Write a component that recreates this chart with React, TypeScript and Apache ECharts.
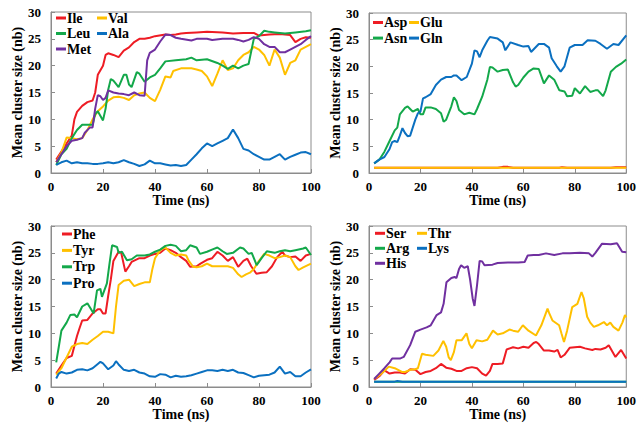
import React, { useEffect, useRef } from "react";
import * as echarts from "echarts";

type P = [number, number][];

// ---- Panel 1 ----
const ile: P = [[2,2.5],[4,4],[6,5.5],[8,7],[9,10],[10,11.4],[12,12.5],[14,13.2],[16,13.5],[17,15],[18,18.3],[20,20],[21,22],[22,22.3],[24,22],[26,21.6],[28,22.8],[30,23.4],[32,24.4],[34,25],[36,25],[38,25.2],[40,25.5],[44,25.8],[46,25.7],[48,25.8],[50,26],[52,26.1],[56,26.2],[60,26.3],[66,26.2],[70,26],[74,26.1],[78,26.1],[80,25.6],[84,25.8],[88,25.9],[92,25.7],[94,24.4],[96,25],[98,25.3],[100,25.2]];
const val: P = [[2,2],[4,3.8],[6,6.6],[8,6.5],[10,6.3],[12,6.5],[14,8],[16,10],[18,11.5],[20,12.4],[22,13.5],[24,14.1],[26,14.2],[28,14],[30,13.6],[32,14.5],[34,14.8],[36,15],[38,14],[40,13.4],[42,15.5],[44,18],[46,17.8],[47,19],[50,19.5],[54,19.5],[56,19.3],[58,19],[60,18],[62,16.2],[64,18.5],[66,21],[68,19.2],[70,19.5],[72,21],[74,22],[76,22.5],[78,23.5],[80,23],[82,22],[84,20],[86,23],[88,21.5],[90,18.3],[92,20.5],[94,21],[96,23],[98,23.5],[100,24]];
const leu: P = [[2,1.5],[4,3.5],[6,4.5],[8,6.5],[10,8],[12,9],[14,9],[16,9],[17,11],[18,11.5],[20,9.8],[21,12],[22,15.5],[23,17.5],[24,17.2],[26,16],[28,18.3],[29,18.3],[30,16.5],[31,16],[33,18.8],[34,18.5],[36,17],[38,17.8],[40,18.3],[42,19.5],[44,20.8],[48,21],[52,21.2],[54,21.5],[56,21],[60,21.2],[64,20.5],[66,20],[68,19.4],[70,20],[72,19.5],[74,20],[76,20.3],[78,25],[80,25.5],[82,26.5],[84,26.3],[86,26.2],[90,26],[94,26.2],[98,26.4],[100,26.6]];
const ala: P = [[2,1.5],[4,2],[6,2.3],[8,1.8],[10,2],[12,1.8],[14,1.8],[16,1.7],[18,1.7],[20,1.8],[22,2],[24,1.8],[26,2],[28,2.4],[30,2],[32,1.7],[34,1.3],[36,1.6],[38,2.3],[40,1.8],[42,1.8],[44,1.6],[46,1.4],[48,1.5],[50,1.3],[52,1.5],[54,2.5],[56,3.5],[58,4.6],[60,5.5],[62,5],[64,5.5],[66,6],[68,6.5],[70,8.1],[72,6.5],[74,4.5],[76,4.2],[78,3.5],[80,3],[82,2.5],[84,2.5],[86,3],[88,3.5],[90,2.5],[92,3],[94,3.4],[96,3.8],[98,3.9],[100,3.5]];
const met: P = [[2,2],[4,3.5],[6,5],[8,6],[10,6.2],[12,6.5],[13,7.5],[15,8.5],[16,8.5],[17,12],[18,14.5],[19,14.3],[20,13.6],[21,14],[22,15.4],[24,15],[26,14.8],[28,14.7],[30,14.5],[32,15],[34,14.5],[36,14.4],[37,21],[38,22.4],[40,23],[42,24.5],[44,25.8],[46,25.7],[48,25.2],[50,25],[54,24.7],[56,25],[60,25],[62,24.8],[66,25],[70,25],[72,24.8],[74,24.5],[76,24.8],[78,25.3],[80,25],[82,24],[84,23.5],[86,23.5],[88,22.5],[90,22.5],[92,23],[94,23.5],[96,24],[98,24.8],[100,25.5]];

// ---- Panel 2 ----
const asp: P = [[2,1],[50,1],[52,1.15],[54,1.15],[56,1],[74,1],[75,1.1],[77,1],[94,1],[96,1.1],[100,1.1]];
const glu: P = [[2,1],[100,1]];
const asn: P = [[2,1.8],[4,2.5],[6,4],[8,6],[10,8],[11,8.5],[12,11],[14,12.2],[15,12.5],[16,12],[17,11.5],[19,12],[20,11],[21,11],[22,12.3],[24,12.3],[26,12],[28,11.2],[29,9.6],[30,10],[32,12.5],[33,14.2],[34,13.5],[35,11.8],[37,11],[39,11.3],[41,11],[42,12],[44,14.3],[46,17.5],[47,19.9],[48,19.8],[50,19],[52,19.3],[54,19.4],[56,17],[57,16.2],[58,16.5],[60,17.9],[62,19],[64,19.6],[66,19.5],[68,16.8],[70,18.3],[72,17.5],[74,15.5],[76,15.3],[77,14.4],[79,14.5],[80,15.9],[82,14.9],[84,16.3],[86,15.2],[88,15.5],[89,15.5],[91,14.4],[92,15.5],[94,19],[96,19.9],[98,20.5],[100,21.3]];
const gln: P = [[2,1.8],[4,2.5],[6,3],[8,4.5],[9,5.8],[10,6],[11,5.8],[12,7],[13,8.4],[14,7.5],[15,6.9],[16,7],[18,10],[19,11.2],[20,11.5],[21,14],[22,14.2],[24,14.8],[26,16.5],[28,17.5],[30,18],[32,18],[33,18.3],[34,18.3],[36,17.4],[38,18],[40,20.5],[41,23],[42,22.8],[43,21.7],[44,23],[46,24.8],[47,25.5],[50,25.2],[52,24.5],[53,23],[55,24.5],[58,24],[60,23.7],[62,23.8],[63,22.7],[66,24.2],[68,24.2],[70,23.5],[71,21.5],[73,20],[74.5,19],[76,20],[78,23.5],[80,24],[83,24],[85,24.9],[88,24.8],[90,24.2],[92.5,23.3],[95,24.2],[97,24],[100,25.8]];

// ---- Panel 3 ----
const phe: P = [[2,2.5],[4,4],[6,5.4],[8,5.8],[10,9.5],[11,11],[12,12.4],[14,12.5],[16,13.7],[18,14.5],[19,14.5],[20,13.7],[21,13.7],[22,17],[23,20],[24,23.5],[26,25.2],[27,25],[28.6,21.5],[30,22.5],[31,23.3],[34,24],[36,24],[38,24.5],[40,24.8],[42,25],[44,25.8],[46,25.5],[48,25],[50,24.2],[52,23.5],[53.5,22.4],[56,22.5],[57.5,23],[60,23.7],[62,24],[64,25.2],[66,24.5],[68,23.5],[70,24.2],[72,22.4],[74,23.5],[75.5,23.9],[77,22.5],[79,21.1],[81,21.3],[83,21.4],[85,22.5],[87,24.2],[89,25.2],[90,24.5],[92,24.2],[94,24.3],[96,23.5],[98,24.5],[100,24.8]];
const tyr: P = [[2,2.3],[4,3.5],[6,5.5],[8,7.5],[10,8],[12,8.2],[14,8],[16,8.8],[18,9.5],[20,10.3],[22,10.3],[24,10],[25,15],[26,19],[28,19.8],[30,20],[32,18.8],[34,19.2],[36,19.5],[38,19.5],[39,22],[40,24],[42,25.5],[44,26],[46,25],[48,24.5],[50,24.7],[52,24.5],[53,23.5],[54.7,22.4],[56,22.3],[58,22.5],[60,23],[62,22.5],[64,22.5],[68,22.5],[70,22.2],[72,21],[73.3,20.5],[75,21],[76.5,21.3],[78,22],[80,23.5],[82,24.8],[84,24.5],[86,24],[88,24.2],[90,24.5],[92,24.2],[94,22.5],[95.2,21.8],[97,22.3],[100,23]];
const trp: P = [[2,4.6],[3,7.5],[4,10.5],[6,12],[7.4,13.4],[9,13.5],[10,13],[12,15],[14,15.6],[16.4,13.7],[17.7,18],[19,18.3],[19.6,16.8],[21.5,19.3],[22.5,23],[23.5,26.4],[25.4,26.1],[26,25],[27.3,25.2],[29.2,23.6],[31,23.8],[33,24.5],[36,24.5],[38,24.7],[40,25.2],[42,25.6],[44,26.3],[46,26.5],[48,26.3],[50,25.3],[52,25.5],[53.5,26.4],[56,26],[57.3,24.8],[60,25.2],[62.4,25.7],[64,26],[66,25.3],[67.6,24.8],[70,25],[72.7,26],[74,25.8],[76,24.8],[77.2,25],[79.1,22.7],[81,24],[83,25.3],[86,25],[88,25.3],[90,25.5],[92,25.3],[94,25.5],[97,25.8],[98,26],[100,24.6]];
const pro: P = [[2,1.6],[3,2.5],[4,2.8],[6,2.5],[8,2.7],[10,3.2],[12,3.3],[14,3.1],[16,3.5],[18,4.3],[19,4.7],[20,4.4],[22,3.3],[24,4],[25,4.8],[26,4.2],[28,3.2],[30,3],[32,3.2],[34,2.7],[36,2.5],[38,2],[40,1.9],[42,2.4],[44,2.3],[46,1.8],[48,2.1],[50,1.9],[52,2],[54,2.2],[56,2.5],[58,2.8],[60,3.1],[62,3.1],[64,3],[66,3.2],[68,3],[70,3.2],[72,2.7],[74,2.6],[76,2.2],[78,1.8],[80,2.1],[82,2.2],[84,2.3],[86,2.7],[88,3.8],[90,2.5],[92,2.8],[94,2],[96,2],[98,2.7],[100,3.3]];

// ---- Panel 4 ----
const ser: P = [[2,1.3],[4,2],[6,3.1],[8,2.5],[10,2.7],[12,2.7],[14,2.5],[16,3.3],[18,3.2],[20,2.4],[22,2.8],[24,3],[26,3.5],[28,4.3],[30,3.6],[32,3.4],[34,3],[36,3],[38,3.5],[40,3.7],[42,3.5],[44,2.5],[45.5,2.1],[47,3],[48,4.3],[50,4.3],[52,4.4],[53.5,7],[56,7.4],[58,7.2],[60,7.5],[62,7.3],[64,8.2],[65,8.4],[66,8],[68,6.8],[70,6.8],[72,6.6],[73.3,6.9],[74.5,5.5],[76,6],[78,7.3],[80,7.4],[82,7.5],[84,7.2],[86.8,6.9],[88,7.1],[90,7],[92,7.3],[93.2,7.8],[95.8,5.6],[98,6.9],[100,5.3]];
const thr: P = [[2,1.5],[4,2.2],[6,3],[7.7,3.8],[10,3.5],[12.8,2.8],[14,2.8],[16,3.2],[18,3.3],[19,3.5],[20.6,6.2],[22,6],[25,5.8],[27,6.8],[28.9,8.6],[30,7.5],[31,5.5],[31.8,5],[33,6.5],[34,8.7],[36,8.7],[37.9,10],[39,8],[40,7.2],[41.8,8.7],[44,8.5],[46,8.8],[48.2,10.5],[50,9.8],[52,10],[54.6,10.7],[56,10.5],[58,10.3],[59.8,11.5],[62,10.5],[64.9,9.6],[67,11.5],[69.4,14.6],[70,13.8],[71.3,12.4],[73.9,11.5],[74.8,10],[75.8,8.4],[77,10.5],[79,14.9],[81,15.5],[82.6,17.7],[83.5,16.5],[84.8,13.1],[86,12],[87.4,11.2],[89,11.5],[91.3,12.1],[92.5,11.5],[93.8,12],[95,11.2],[97,10.5],[98.5,12],[99.5,13.4],[100,13]];
const arg: P = [[2,1],[100,1]];
const lys: P = [[2,1],[10,1],[11,1.1],[13,1],[100,1]];
const his: P = [[2,1.5],[4,2.5],[6,3.5],[8,4.6],[9,5.3],[12,5.3],[13.5,5.6],[16,7.8],[18,10.3],[20,10.7],[22.4,11.1],[24,11.5],[26.3,13.4],[28,13.9],[29,15.5],[30.1,19.5],[32,20.3],[33.3,20.5],[34,20.3],[35,22],[35.8,22.7],[37,22.2],[38.4,22.5],[39.3,20],[40.3,16.5],[41,15.1],[42,19],[43,23.5],[44,23.4],[44.9,22.7],[48,22.8],[50,23.1],[54,23.2],[58,23.2],[60.5,23.3],[61.7,24.5],[64,24.6],[66,24.6],[68.8,24.9],[72,24.6],[75.2,24.9],[78,24.9],[82,25],[85.5,24.9],[86.8,24.3],[88,25],[90.6,26.7],[94,26.6],[96.4,26.8],[98.4,25.2],[100,25.1]];

const C = { red: "#ee1c24", yellow: "#ffc000", green: "#13a84a", blue: "#0b70c0", purple: "#7030a0" };
const FONT = "'Liberation Serif', 'Times New Roman', serif";

type SeriesDef = { name: string; data: P; color: string };
type LegendCol = { names: string[]; left: number; top: number; gap: number };
type Panel = { grid: { left: number; top: number; width: number; height: number }; series: SeriesDef[]; legends: LegendCol[] };

const panels: Panel[] = [
  {
    grid: { left: 51, top: 12, width: 260, height: 161 },
    series: [
      { name: "Ile", data: ile, color: C.red },
      { name: "Val", data: val, color: C.yellow },
      { name: "Leu", data: leu, color: C.green },
      { name: "Ala", data: ala, color: C.blue },
      { name: "Met", data: met, color: C.purple },
    ],
    legends: [
      { names: ["Ile", "Leu", "Met"], left: 56, top: 11, gap: 1.5 },
      { names: ["Val", "Ala"], left: 97, top: 11, gap: 1.5 },
    ],
  },
  {
    grid: { left: 369, top: 13, width: 260, height: 160 },
    series: [
      { name: "Asp", data: asp, color: C.red },
      { name: "Glu", data: glu, color: C.yellow },
      { name: "Asn", data: asn, color: C.green },
      { name: "Gln", data: gln, color: C.blue },
    ],
    legends: [
      { names: ["Asp", "Asn"], left: 373, top: 15.5, gap: 1.6 },
      { names: ["Glu", "Gln"], left: 409, top: 15.5, gap: 1.6 },
    ],
  },
  {
    grid: { left: 51, top: 226, width: 260, height: 161 },
    series: [
      { name: "Phe", data: phe, color: C.red },
      { name: "Tyr", data: tyr, color: C.yellow },
      { name: "Trp", data: trp, color: C.green },
      { name: "Pro", data: pro, color: C.blue },
    ],
    legends: [{ names: ["Phe", "Tyr", "Trp", "Pro"], left: 62, top: 227, gap: 2.4 }],
  },
  {
    grid: { left: 369, top: 226, width: 261, height: 161 },
    series: [
      { name: "Ser", data: ser, color: C.red },
      { name: "Thr", data: thr, color: C.yellow },
      { name: "Arg", data: arg, color: C.green },
      { name: "Lys", data: lys, color: C.blue },
      { name: "His", data: his, color: C.purple },
    ],
    legends: [
      { names: ["Ser", "Arg", "His"], left: 375, top: 226.3, gap: 1 },
      { names: ["Thr", "Lys"], left: 417, top: 226.3, gap: 1 },
    ],
  },
];

function buildOption() {
  const label = { color: "#000", fontFamily: FONT, fontWeight: "bold" as const, fontSize: 13 };
  const nameStyle = { color: "#000", fontFamily: FONT, fontWeight: "bold" as const, fontSize: 14 };
  const grid: any[] = [];
  const xAxis: any[] = [];
  const yAxis: any[] = [];
  const series: any[] = [];
  const legend: any[] = [];
  panels.forEach((p, i) => {
    grid.push({ ...p.grid, show: true, borderColor: "#8c8c8c", borderWidth: 1, containLabel: false });
    xAxis.push({
      gridIndex: i, type: "value", min: 0, max: 100, interval: 20,
      axisLine: { show: true, lineStyle: { color: "#8c8c8c", width: 1 } },
      axisTick: { show: true, inside: true, length: 4, lineStyle: { color: "#8c8c8c" } },
      splitLine: { show: false },
      axisLabel: { ...label, margin: 7 },
      name: "Time (ns)", nameLocation: "middle", nameGap: 20, nameTextStyle: nameStyle,
    });
    yAxis.push({
      gridIndex: i, type: "value", min: 0, max: 30, interval: 5,
      axisLine: { show: true, lineStyle: { color: "#8c8c8c", width: 1 } },
      axisTick: { show: true, inside: true, length: 4, lineStyle: { color: "#8c8c8c" } },
      splitLine: { show: false },
      axisLabel: { ...label, margin: 10 },
      name: "Mean cluster size (nb)", nameLocation: "middle", nameGap: 26, nameTextStyle: nameStyle,
    });
    p.series.forEach((s) => {
      series.push({
        type: "line", name: s.name, data: s.data, xAxisIndex: i, yAxisIndex: i,
        showSymbol: false, symbol: "none", smooth: false,
        lineStyle: { color: s.color, width: 2 }, itemStyle: { color: s.color },
      });
    });
    p.legends.forEach((l) => {
      legend.push({
        data: l.names, orient: "vertical", left: l.left, top: l.top, padding: 0,
        itemGap: l.gap, itemWidth: 10, itemHeight: 3, icon: "rect",
        textStyle: { ...nameStyle, lineHeight: 14, padding: [0, 0, 0, -4] },
        selectedMode: false,
      });
    });
  });
  return { animation: false, backgroundColor: "#fff", grid, xAxis, yAxis, series, legend };
}

export default function App() {
  const ref = useRef<HTMLDivElement>(null);
  useEffect(() => {
    if (!ref.current) return;
    const chart = echarts.init(ref.current, undefined, { renderer: "svg" });
    chart.setOption(buildOption() as any);
    return () => chart.dispose();
  }, []);
  return <div ref={ref} style={{ position: "absolute", left: 0, top: 0, width: 639, height: 423 }} />;
}
